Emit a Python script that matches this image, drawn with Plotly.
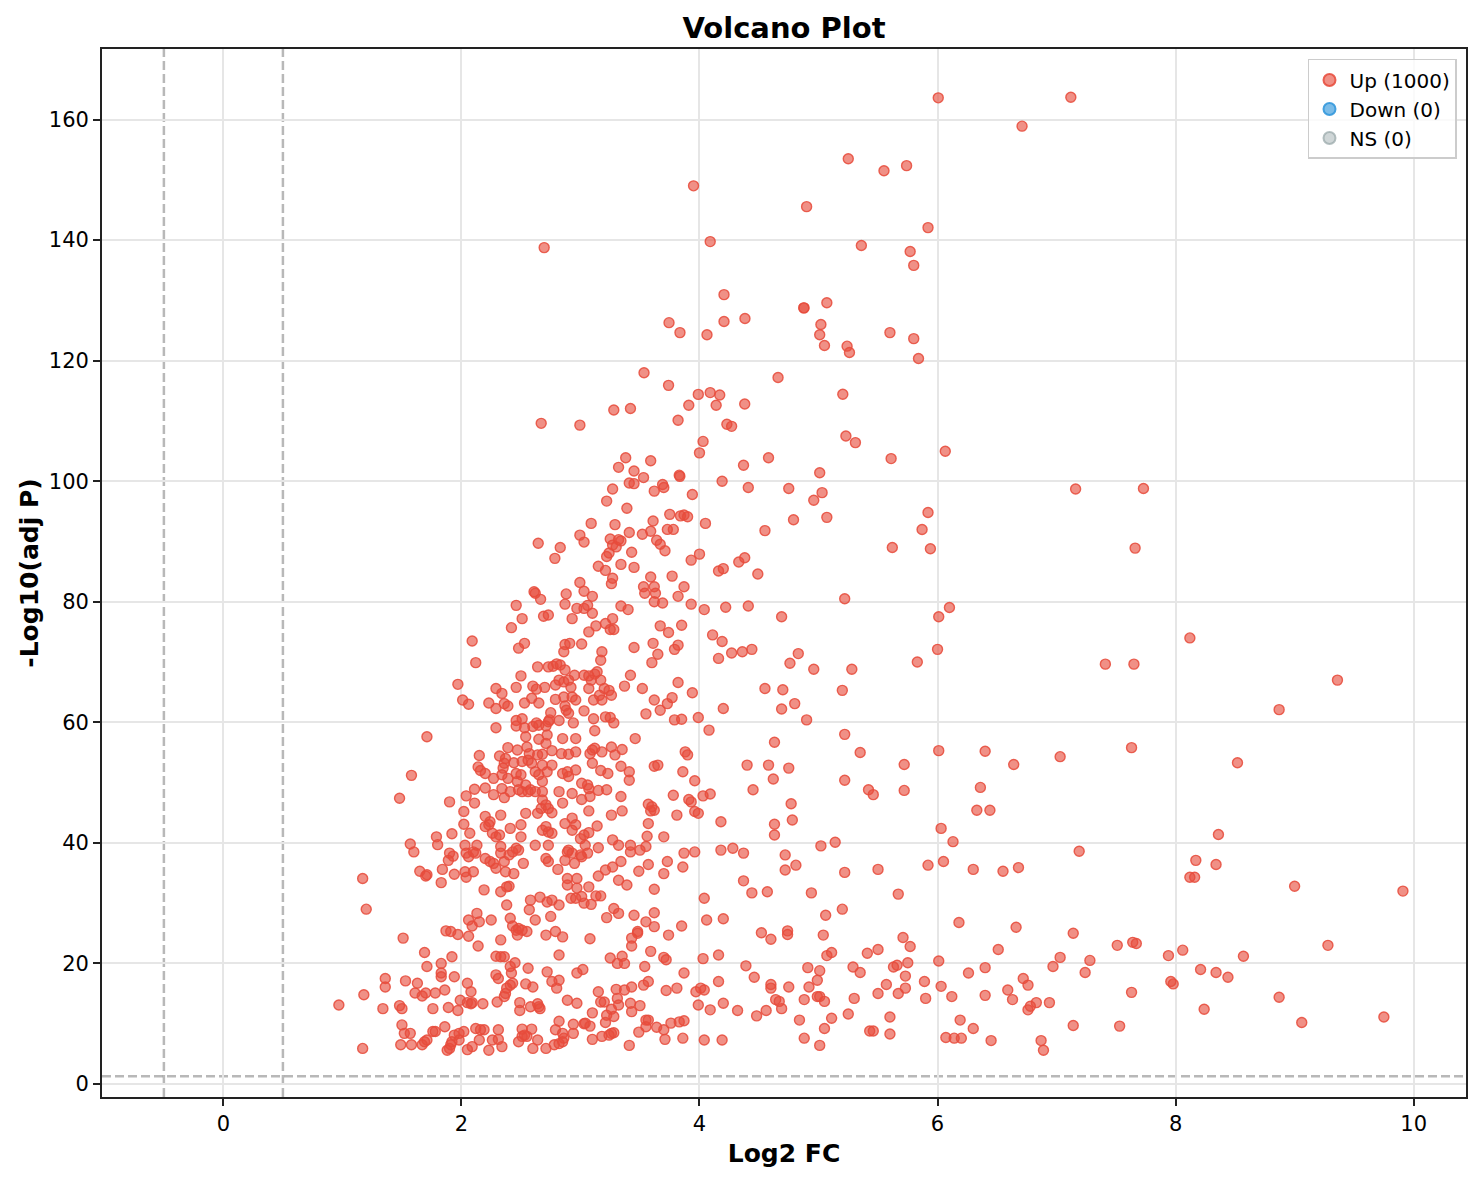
import plotly.graph_objects as go
import numpy as np

# significance cutoffs used for the dashed guide lines
fc_cutoff = 0.5
padj_cutoff = 0.05

# (log2 fold change, -log10 adjusted p) for the "Up" genes
up_genes = [
    (1.17, 34.1), (1.20, 29.0), (1.51, 24.2), (0.97, 13.1), (1.18, 14.8), (1.17, 5.9), (1.57, 39.8), (1.60, 38.5),
    (1.79, 41.0), (1.80, 39.7), (1.92, 41.5), (1.65, 35.3), (1.70, 34.5), (1.71, 34.7), (1.84, 35.6), (1.83, 33.4),
    (1.89, 37.1), (1.90, 38.3), (1.93, 37.8), (1.94, 34.8), (2.02, 43.1), (2.07, 41.6), (2.03, 39.6), (2.04, 38.3),
    (2.06, 37.7), (2.10, 38.5), (2.12, 38.3), (2.13, 39.6), (2.03, 35.2), (2.04, 34.3), (2.10, 35.2), (2.19, 32.2),
    (2.33, 31.9), (2.38, 32.7), (2.40, 32.8), (2.20, 42.7), (2.23, 43.0), (2.26, 41.6), (2.29, 41.0), (2.32, 41.3),
    (2.24, 43.5), (2.41, 42.4), (2.50, 43.0), (2.50, 41.0), (2.20, 37.4), (2.24, 36.9), (2.27, 36.6), (2.29, 35.8),
    (2.33, 38.3), (2.36, 36.9), (2.37, 35.2), (2.44, 34.9), (2.52, 36.6), (2.43, 38.5), (2.46, 39.1), (2.48, 38.8),
    (2.40, 38.0), (2.33, 39.4), (2.62, 39.6), (2.73, 39.6), (2.68, 42.1), (2.73, 41.8), (2.76, 41.6), (2.71, 42.7),
    (2.71, 37.4), (2.73, 36.9), (2.81, 35.6), (2.87, 37.1), (2.89, 38.5), (2.90, 38.8), (2.93, 38.3), (2.89, 34.1),
    (2.89, 33.0), (2.92, 30.8), (2.96, 30.8), (2.38, 29.7), (2.33, 23.9), (2.41, 27.5), (2.43, 26.2), (2.46, 25.5),
    (2.48, 25.8), (2.47, 24.7), (2.51, 25.5), (2.55, 25.3), (2.57, 28.9), (2.58, 30.5), (2.62, 27.2), (2.66, 31.0),
    (2.72, 30.2), (2.76, 30.5), (2.82, 29.7), (2.75, 27.8), (2.71, 24.7), (2.79, 25.3), (2.85, 24.4), (2.06, 27.2),
    (2.09, 26.2), (2.13, 28.3), (2.15, 26.9), (2.25, 27.2), (1.87, 25.4), (1.91, 25.3), (1.97, 24.8), (2.06, 24.5),
    (2.14, 22.9), (1.69, 21.8), (1.71, 19.5), (1.83, 20.0), (1.83, 18.4), (1.83, 17.8), (1.92, 21.1), (1.94, 17.8),
    (1.36, 17.5), (1.36, 16.1), (1.53, 17.1), (1.63, 16.7), (1.61, 15.1), (1.70, 15.1), (1.67, 14.6), (1.78, 15.1),
    (1.86, 15.6), (1.48, 13.0), (1.50, 12.5), (1.34, 12.5), (1.76, 12.5), (1.89, 12.7), (1.97, 12.2), (1.99, 13.9),
    (2.05, 16.7), (2.08, 15.3), (2.05, 13.5), (2.08, 13.3), (2.09, 13.5), (2.18, 13.3), (2.29, 21.2), (2.33, 21.1),
    (2.36, 21.1), (2.41, 19.5), (2.45, 20.1), (2.42, 18.4), (2.29, 18.1), (2.31, 17.5), (2.56, 19.2), (2.72, 18.6),
    (2.41, 16.4), (2.38, 15.9), (2.37, 15.0), (2.36, 14.5), (2.43, 16.7), (2.54, 16.6), (2.60, 16.1), (2.76, 17.0),
    (2.82, 17.2), (2.80, 15.9), (2.89, 13.9), (2.97, 18.4), (2.97, 13.4), (2.82, 21.4), (2.30, 13.6), (2.49, 13.5),
    (2.49, 12.2), (2.58, 12.8), (2.64, 13.3), (2.65, 12.8), (2.66, 12.5), (1.50, 9.8), (1.52, 8.4), (1.57, 8.4),
    (1.76, 8.7), (1.78, 8.7), (1.86, 9.5), (1.94, 8.1), (1.98, 8.4), (2.02, 8.7), (2.12, 9.2), (2.16, 9.0),
    (2.19, 9.0), (2.31, 9.0), (2.51, 9.1), (2.59, 9.1), (2.82, 10.4), (2.94, 9.9), (2.79, 9.0), (2.85, 8.4),
    (2.94, 8.4), (1.49, 6.5), (1.58, 6.5), (1.67, 6.5), (1.69, 7.0), (1.71, 7.3), (1.88, 5.6), (1.90, 5.9),
    (1.91, 6.5), (1.92, 7.0), (1.98, 7.3), (2.05, 5.7), (2.09, 6.2), (2.15, 7.3), (2.23, 5.6), (2.26, 7.3),
    (2.31, 7.4), (2.34, 6.2), (2.48, 7.0), (2.51, 7.9), (2.53, 8.1), (2.55, 7.9), (2.60, 5.9), (2.64, 7.3),
    (2.71, 5.9), (2.78, 6.5), (2.82, 6.7), (2.85, 7.0), (2.86, 7.6), (2.87, 43.2), (2.96, 43.0), (2.93, 42.1),
    (2.97, 34.1), (2.97, 32.5),
    (3.14, 42.8), (3.07, 41.7), (3.03, 41.3), (3.00, 40.7), (3.04, 39.6), (3.06, 38.3), (3.00, 38.0), (3.01, 37.7),
    (3.15, 39.2), (2.95, 36.6), (3.27, 40.5), (3.32, 39.6), (3.42, 39.6), (3.42, 38.5), (3.50, 38.8), (3.55, 39.4),
    (3.57, 43.2), (3.56, 41.1), (3.70, 41.0), (3.34, 36.9), (3.27, 36.0), (3.21, 35.5), (3.15, 34.5), (3.32, 33.8),
    (3.39, 33.0), (3.49, 35.3), (3.57, 36.4), (3.73, 36.9), (3.70, 34.9), (3.87, 38.3), (3.96, 38.5), (3.86, 36.0),
    (3.07, 32.7), (3.01, 31.1), (3.03, 30.0), (3.09, 29.8), (3.13, 31.2), (3.17, 31.2), (3.62, 32.3), (3.28, 29.1),
    (3.32, 28.3), (3.22, 27.6), (3.45, 28.0), (3.62, 28.4), (3.55, 26.9), (3.62, 26.1), (3.48, 25.3), (3.48, 25.0),
    (3.43, 24.2), (3.43, 22.9), (3.74, 24.7), (3.85, 26.2), (3.08, 24.1), (4.04, 30.8), (4.06, 27.2), (4.20, 27.4),
    (4.18, 43.5), (4.18, 38.8), (4.28, 39.1), (4.37, 38.3), (4.37, 33.7), (4.44, 31.7), (4.57, 31.9), (4.63, 43.1),
    (4.63, 41.3), (4.78, 43.8), (4.72, 38.0), (4.72, 35.5), (4.81, 36.3), (5.02, 39.5), (4.94, 31.7), (4.52, 25.1),
    (4.60, 24.0), (4.74, 25.4), (4.74, 24.8), (5.04, 24.7), (5.06, 28.0), (3.25, 20.9), (3.35, 21.2), (3.31, 20.0),
    (3.37, 20.0), (3.59, 22.0), (3.54, 19.5), (3.70, 21.0), (3.72, 20.6), (4.03, 20.8), (4.16, 21.4), (3.02, 19.0),
    (3.87, 18.4), (4.16, 17.0), (4.39, 19.6), (4.46, 17.7), (4.60, 16.5), (4.60, 15.9), (4.75, 16.1), (4.91, 19.3),
    (4.99, 17.2), (5.01, 18.8), (4.92, 16.1), (3.15, 15.3), (3.30, 15.7), (3.37, 15.6), (3.43, 16.1), (3.53, 16.4),
    (3.57, 17.0), (3.72, 15.5), (3.81, 15.9), (3.97, 15.3), (4.01, 15.9), (4.04, 15.6), (3.99, 13.1), (4.20, 13.4),
    (4.09, 12.3), (4.32, 12.2), (4.48, 11.3), (4.56, 12.2), (4.69, 12.5), (4.64, 14.0), (4.67, 13.7), (4.88, 14.0),
    (4.99, 14.5), (5.01, 14.5), (5.05, 13.7), (3.17, 13.6), (3.20, 13.6), (3.31, 14.2), (3.32, 13.1), (3.42, 13.4),
    (3.43, 12.0), (3.50, 13.0), (3.26, 12.4), (3.28, 11.2), (3.22, 11.4), (3.21, 10.2), (3.10, 11.8), (3.04, 10.1),
    (3.03, 10.0), (3.08, 9.6), (3.26, 8.4), (3.28, 8.5), (3.24, 8.1), (3.18, 7.9), (3.10, 7.4), (3.41, 6.4),
    (3.49, 8.6), (3.55, 9.5), (3.57, 10.6), (3.55, 10.6), (3.64, 9.4), (3.70, 9.0), (3.76, 10.1), (3.83, 10.3),
    (3.87, 10.5), (3.71, 7.4), (3.86, 7.6), (4.04, 7.3), (4.19, 7.3), (4.84, 10.6), (4.88, 7.6), (5.01, 6.4),
    (5.05, 9.2),
    (8.87, 62.1), (5.22, 58.0), (5.35, 55.0), (5.72, 53.0), (6.01, 55.3), (6.40, 55.2), (6.64, 53.0), (7.03, 54.3),
    (7.63, 55.8), (8.52, 53.3), (5.22, 50.4), (5.42, 48.8), (5.46, 48.0), (5.72, 48.7), (6.36, 49.2), (6.33, 45.4),
    (6.44, 45.4), (6.03, 42.4), (6.13, 40.2), (8.36, 41.4), (5.14, 40.1), (7.19, 38.6), (5.22, 35.1), (5.50, 35.6),
    (5.92, 36.3), (6.05, 36.9), (6.30, 35.6), (6.55, 35.3), (6.68, 35.9), (8.17, 37.1), (8.12, 34.3), (8.16, 34.3),
    (8.34, 36.4), (5.67, 31.5), (9.00, 32.8), (9.91, 32.0), (5.20, 29.0), (6.18, 26.8), (5.71, 24.3), (5.77, 22.8),
    (6.66, 26.0), (7.14, 25.0), (5.41, 21.7), (5.50, 22.3), (5.11, 21.8), (5.07, 21.3), (6.51, 22.3), (7.51, 23.0),
    (7.64, 23.5), (7.67, 23.3), (7.94, 21.3), (8.06, 22.2), (9.28, 23.0), (8.57, 21.2), (5.29, 19.4), (5.35, 18.5),
    (5.63, 19.4), (5.66, 19.7), (5.75, 20.1), (5.73, 17.9), (6.01, 20.4), (6.26, 18.4), (6.40, 19.3), (6.97, 19.5),
    (7.03, 21.0), (7.28, 20.5), (7.24, 18.5), (8.21, 19.0), (8.34, 18.5), (8.44, 17.7), (7.96, 17.0), (7.98, 16.6),
    (5.57, 16.5), (5.50, 15.0), (5.67, 15.0), (5.73, 15.9), (5.89, 17.0), (5.90, 14.2), (6.03, 16.2), (6.12, 14.5),
    (6.40, 14.7), (6.59, 15.6), (6.63, 14.0), (6.72, 17.5), (6.76, 16.4), (7.63, 15.2), (8.87, 14.4), (9.06, 10.2),
    (9.75, 11.1), (5.30, 14.2), (5.25, 11.6), (5.11, 10.9), (5.60, 11.1), (5.43, 8.8), (5.46, 8.8), (5.60, 8.3),
    (6.19, 10.6), (6.30, 9.2), (6.07, 7.7), (6.14, 7.6), (6.20, 7.6), (6.45, 7.2), (6.76, 12.3), (6.78, 12.9),
    (6.83, 13.5), (6.94, 13.5), (6.87, 7.2), (6.89, 5.6), (7.14, 9.7), (7.53, 9.6), (8.24, 12.4),
    (2.46, 79.4), (2.51, 77.2), (2.42, 75.7), (2.69, 77.6), (2.73, 77.8), (2.87, 79.6), (2.93, 77.2), (2.97, 78.9),
    (2.09, 73.5), (2.12, 69.9), (2.48, 72.3), (2.53, 73.1), (2.87, 72.9), (2.91, 73.1), (2.86, 71.7), (2.64, 69.2),
    (2.73, 69.2), (2.77, 69.3), (2.80, 69.7), (2.83, 69.5), (2.87, 68.7), (2.95, 67.8), (2.50, 67.7), (2.46, 65.8),
    (2.60, 66.0), (2.63, 65.5), (2.70, 65.8), (2.79, 66.2), (2.82, 67.0), (2.86, 66.7), (2.90, 67.0), (2.92, 65.8),
    (1.97, 66.3), (2.29, 65.6), (2.34, 64.8), (2.23, 63.2), (2.29, 62.3), (2.36, 63.1), (2.39, 62.7), (2.01, 63.7),
    (2.06, 63.0), (2.53, 63.2), (2.59, 64.0), (2.65, 63.2), (2.79, 63.8), (2.86, 64.2), (2.93, 64.2), (2.96, 63.7),
    (2.87, 62.7), (2.88, 62.0), (2.90, 61.5), (2.75, 61.6), (2.74, 60.4), (2.46, 60.3), (2.51, 60.6), (2.46, 59.4),
    (2.53, 59.1), (2.60, 59.3), (2.63, 59.9), (2.65, 59.5), (2.71, 59.4), (2.73, 60.1), (2.82, 60.3), (2.94, 59.9),
    (2.29, 59.1), (1.71, 57.6), (2.54, 57.6), (2.72, 57.9), (2.65, 57.2), (2.71, 56.5), (2.85, 57.3), (2.96, 57.3),
    (2.39, 55.8), (2.47, 55.4), (2.55, 55.9), (2.57, 54.8), (2.56, 53.7), (2.64, 54.6), (2.68, 54.7), (2.76, 55.3),
    (2.84, 54.8), (2.90, 54.7), (2.96, 55.1), (2.15, 54.5), (2.32, 54.4), (2.37, 54.0), (2.36, 53.2), (2.35, 52.4),
    (2.44, 53.3), (2.51, 53.5), (2.59, 53.2), (2.62, 51.8), (2.68, 52.9), (2.76, 52.9), (2.65, 51.3), (2.14, 52.6),
    (2.16, 52.0), (2.20, 51.5), (2.27, 50.7), (2.34, 51.3), (2.39, 50.7), (2.46, 51.5), (2.50, 51.3), (2.47, 50.2),
    (2.54, 49.6), (2.58, 48.8), (2.68, 50.2), (2.72, 51.8), (2.85, 51.5), (2.89, 51.8), (2.90, 51.0), (2.96, 52.1),
    (1.58, 51.2), (1.48, 47.4), (1.90, 46.8), (2.04, 47.8), (2.11, 48.9), (2.11, 46.6), (2.20, 49.1), (2.27, 48.0),
    (2.34, 49.0), (2.36, 47.5), (2.41, 48.5), (2.48, 48.8), (2.51, 48.5), (2.56, 48.5), (2.62, 48.5), (2.68, 48.5),
    (2.82, 48.5), (2.85, 46.6), (2.93, 48.2), (2.68, 47.1), (2.71, 46.3), (2.02, 45.2), (2.20, 44.4), (2.33, 44.6),
    (2.54, 44.9), (2.64, 44.9), (2.76, 45.0), (2.93, 44.1), (2.67, 45.7), (2.73, 45.7),
    (3.03, 78.9), (3.06, 79.4), (3.10, 78.1), (3.27, 77.2), (3.21, 76.4), (3.13, 76.0), (3.07, 75.0), (3.25, 75.4),
    (3.28, 75.4), (3.34, 79.3), (3.40, 78.7), (3.62, 80.0), (3.69, 79.8), (3.93, 79.6), (4.04, 78.7), (4.22, 79.1),
    (4.41, 79.3), (3.67, 76.0), (3.74, 74.9), (3.85, 76.1), (3.01, 73.0), (3.18, 71.7), (3.17, 70.3), (3.45, 72.4),
    (3.61, 73.1), (3.65, 71.3), (3.60, 69.9), (3.79, 72.1), (3.82, 72.8), (4.11, 74.5), (4.19, 73.4), (4.16, 70.6),
    (4.27, 71.5), (4.36, 71.7), (4.44, 72.1), (4.55, 65.6), (3.03, 67.8), (3.07, 67.7), (3.12, 68.0), (3.14, 68.4),
    (3.17, 67.0), (3.09, 67.0), (3.07, 65.6), (3.20, 65.6), (3.24, 65.3), (3.26, 64.5), (3.11, 63.7), (3.18, 63.7),
    (3.16, 64.5), (3.03, 61.9), (3.42, 67.8), (3.37, 66.0), (3.52, 65.6), (3.62, 63.7), (3.77, 64.1), (3.73, 63.1),
    (3.67, 62.0), (3.82, 66.6), (3.94, 64.9), (4.20, 62.3), (3.55, 61.4), (3.11, 60.6), (3.21, 60.9), (3.25, 60.8),
    (3.28, 59.9), (3.79, 60.4), (3.85, 60.5), (3.99, 60.8), (4.08, 58.7), (3.12, 58.6), (3.46, 57.3), (3.10, 55.4),
    (3.12, 55.7), (3.08, 54.8), (3.18, 55.1), (3.26, 55.9), (3.29, 54.6), (3.35, 55.5), (3.88, 55.1), (3.90, 54.6),
    (3.62, 52.7), (3.65, 52.9), (3.86, 51.8), (3.96, 50.3), (4.40, 52.9), (4.58, 52.9), (4.45, 48.8), (3.10, 53.2),
    (3.17, 52.0), (3.23, 51.5), (3.34, 52.7), (3.41, 51.8), (3.41, 50.4), (3.01, 49.9), (3.06, 49.6), (3.07, 49.0),
    (3.15, 48.7), (3.22, 48.8), (3.34, 47.7), (3.01, 47.2), (3.08, 47.7), (3.78, 47.9), (3.91, 47.2), (3.93, 46.8),
    (4.03, 47.8), (4.09, 48.1), (3.57, 46.4), (3.60, 46.0), (3.62, 45.4), (3.59, 45.3), (3.35, 45.3), (3.26, 44.6),
    (3.07, 45.3), (3.81, 44.6), (3.96, 45.2), (3.99, 44.9),
    (5.22, 80.5), (4.69, 77.5), (6.01, 77.5), (6.10, 79.05), (4.83, 71.4), (4.76, 69.8), (4.96, 68.8), (5.28, 68.8),
    (5.83, 70.0), (6.00, 72.1), (4.70, 65.4), (5.20, 65.3), (4.69, 62.2), (4.80, 63.1), (4.90, 60.4), (4.63, 56.7),
    (4.75, 52.4), (4.62, 50.6), (4.77, 46.5),
    (3.74, 115.9), (3.99, 114.4), (4.09, 114.7), (4.17, 114.3), (3.91, 112.6), (4.14, 112.6), (4.38, 112.8),
    (3.28, 111.8), (3.42, 112.05), (2.67, 109.6), (2.995, 109.3), (3.82, 110.1), (4.23, 109.45), (4.27, 109.1),
    (4.03, 106.6), (4.00, 104.7), (3.38, 103.9), (3.32, 102.3), (3.45, 101.7), (3.59, 103.4), (3.53, 100.6),
    (3.83, 101.0), (3.835, 100.8), (4.37, 102.65), (4.58, 103.9), (3.41, 99.7), (3.45, 99.6), (3.69, 99.45),
    (3.70, 98.95), (3.62, 98.35), (3.27, 98.7), (3.94, 97.8), (4.19, 100.0), (4.41, 98.95), (4.75, 98.8),
    (3.22, 96.7), (3.39, 95.5), (3.75, 94.5), (3.84, 94.25), (3.87, 94.4), (3.90, 94.1), (4.05, 93.0), (4.79, 93.6),
    (3.09, 93.0), (3.29, 92.8), (3.61, 93.4), (3.73, 92.0), (3.78, 92.0), (3.52, 91.2), (3.59, 91.7), (4.55, 91.8),
    (2.995, 91.05), (3.03, 89.9), (2.645, 89.7), (2.83, 89.0), (2.785, 87.2), (3.25, 90.4), (3.32, 90.3),
    (3.34, 90.1), (3.27, 89.4), (3.30, 89.1), (3.24, 88.1), (3.22, 87.5), (3.41, 91.5), (3.43, 88.2), (3.64, 90.2),
    (3.67, 89.55), (3.71, 88.45), (3.34, 86.2), (3.45, 85.7), (3.15, 85.9), (3.21, 85.2), (3.93, 86.9), (4.00, 87.9),
    (4.16, 85.1), (4.20, 85.5), (4.33, 86.6), (4.38, 87.3), (4.49, 84.6), (2.995, 83.2), (3.03, 81.75), (3.10, 80.9),
    (2.88, 81.3), (2.61, 81.65), (2.62, 81.4), (2.665, 80.4), (3.27, 83.9), (3.26, 83.0), (3.59, 84.1), (3.77, 84.25),
    (3.87, 82.5), (3.53, 82.5), (3.54, 81.4), (3.62, 82.5), (3.63, 81.4), (3.82, 80.9),
    (6.006, 163.6), (5.25, 153.5), (5.55, 151.5), (5.74, 152.35), (3.95, 149.0), (4.90, 145.55), (5.92, 142.07),
    (2.695, 138.75), (4.09, 139.75), (5.36, 139.1), (5.77, 138.1), (5.80, 135.8), (4.206, 130.95), (4.877, 128.75),
    (4.877, 128.75), (5.07, 129.6), (3.744, 126.3), (3.836, 124.65), (4.063, 124.3), (4.206, 126.5), (4.382, 127.0),
    (5.02, 126.0), (5.01, 124.3), (5.05, 122.5), (5.24, 122.4), (5.26, 121.35), (5.60, 124.65), (5.80, 123.65),
    (5.84, 120.35), (3.534, 118.0), (4.66, 117.2),
    (5.204, 114.43), (5.23, 107.5), (5.31, 106.4), (5.61, 103.75), (6.065, 104.97), (5.01, 101.4), (5.03, 98.1),
    (4.96, 96.85), (5.07, 94.0), (5.92, 94.8), (5.87, 91.99), (5.94, 88.8), (5.62, 89.0),
    (7.12, 163.7), (6.71, 158.9), (7.16, 98.7), (7.73, 98.8), (7.66, 88.9), (8.12, 74.0), (7.41, 69.65),
    (7.65, 69.65), (9.36, 67.0),
]
up_log2fc = [g[0] for g in up_genes]
up_neglogp = [g[1] for g in up_genes]

# no down-regulated or non-significant genes in this set
down_log2fc, down_neglogp = [], []
ns_log2fc, ns_neglogp = [], []

# counts as printed in the legend
legend_counts = {'Up': 1000, 'Down': 0, 'NS': 0}

font_family = 'DejaVu Sans'

# the page body adds an 8px offset, so the figure is drawn 8px smaller
W, H = 1474, 1172

fig = go.Figure()


def add_group(xs, ys, name, rgb, alpha):
    # an empty group still needs a legend entry, so give it a single blank point
    if len(xs) == 0:
        xs, ys = [None], [None]
    fig.add_trace(go.Scatter(
        x=xs, y=ys, mode='markers',
        name=f'{name} ({legend_counts[name]})',
        marker=dict(size=10, color=f'rgba({rgb},{alpha})',
                    line=dict(color=f'rgba({rgb},{min(alpha + 0.25, 1)})', width=1.4)),
        hoverinfo='x+y',
        showlegend=True,
    ))


add_group(up_log2fc, up_neglogp, 'Up', '231,76,60', 0.62)
add_group(down_log2fc, down_neglogp, 'Down', '52,152,219', 0.65)
add_group(ns_log2fc, ns_neglogp, 'NS', '149,165,166', 0.45)

# threshold guide lines
guide = dict(color='rgba(128,128,128,0.56)', width=2.5, dash='9px,4px')
fig.add_vline(x=-fc_cutoff, line=guide, layer='below')
fig.add_vline(x=fc_cutoff, line=guide, layer='below')
fig.add_hline(y=-np.log10(padj_cutoff), line=guide, layer='below')

axis_common = dict(
    showline=True, linecolor='#222222', linewidth=1.7, mirror=True,
    ticks='outside', ticklen=7, tickwidth=1.6, tickcolor='#222222',
    showgrid=True, gridcolor='#e6e6e6', gridwidth=1.5,
    zeroline=False,
    tickfont=dict(family=font_family, size=21, color='black'),
)

fig.update_layout(
    width=W, height=H, autosize=False,
    margin=dict(l=94, r=16, t=41, b=83),
    paper_bgcolor='white', plot_bgcolor='white',
    font=dict(family=font_family, color='black'),
    title=dict(text='<b>Volcano Plot</b>', x=0.5, xref='paper', xanchor='center',
               y=1 - 20 / H, yref='container', yanchor='middle',
               font=dict(family=font_family, size=29, color='black')),
    xaxis=dict(axis_common, range=[-1.02, 10.44], dtick=2, tick0=0,
               title=dict(text='<b>Log2 FC</b>', standoff=9,
                          font=dict(family=font_family, size=25, color='black'))),
    yaxis=dict(axis_common, range=[-2.16, 171.7], dtick=20, tick0=0,
               title=dict(text='<b>-Log10(adj P)</b>', standoff=3,
                          font=dict(family=font_family, size=25, color='black'))),
    legend=dict(x=0.9934, y=0.9905, xanchor='right', yanchor='top',
                bgcolor='rgba(255,255,255,0.8)', bordercolor='#cccccc', borderwidth=1.5,
                font=dict(family=font_family, size=20, color='black'),
                itemsizing='constant', tracegroupgap=4),
    showlegend=True,
)

fig.write_html('out.html')
